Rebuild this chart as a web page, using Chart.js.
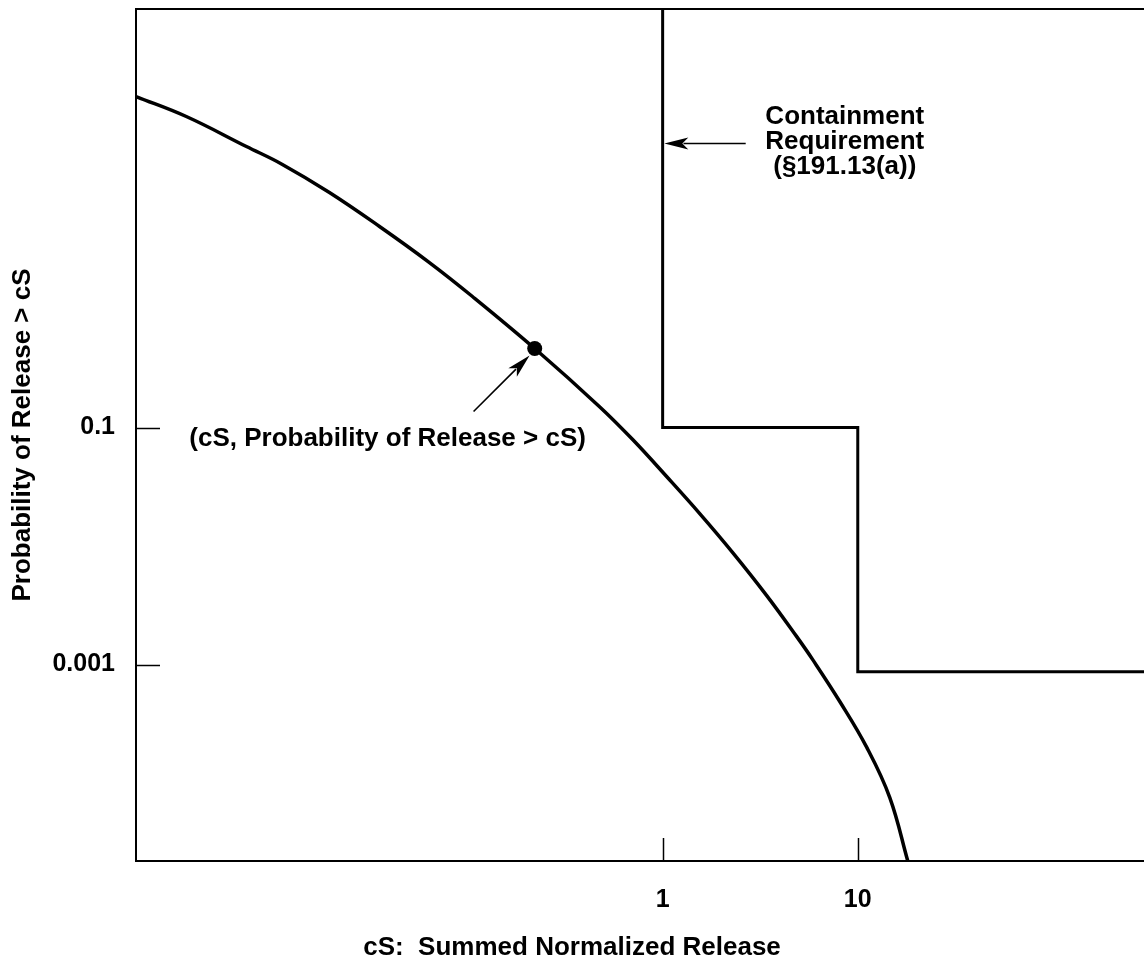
<!DOCTYPE html>
<html><head><meta charset="utf-8">
<script src="https://cdn.jsdelivr.net/npm/chart.js@4/dist/chart.umd.min.js"></script>
<style>html,body{margin:0;padding:0;background:#fff;overflow:hidden}#wrap{width:1144px;height:977px;position:relative}</style>
</head><body><div id="wrap"><canvas id="c" width="1144" height="977"></canvas></div>
<script>
// ---- data ----
const xTickValues = [1, 10];
const xTickLabels = ['1', '10'];
const yTickValues = [0.1, 0.001];
const yTickLabels = ['0.1', '0.001'];

// complementary cumulative distribution curve (cS, P(release > cS))
const curveX = [0.002, 0.00362, 0.00736, 0.01125, 0.0196, 0.0354, 0.0638, 0.106, 0.221, 0.475, 0.702, 1.048, 1.549, 2.286, 3.415, 4.866, 5.875, 8.086, 11.12, 14.59, 18.04];
const curveY = [62.1, 42.1, 23.5, 16.6, 9.62, 4.97, 2.466, 1.275, 0.464, 0.150, 0.0792, 0.0386, 0.0188, 0.00881, 0.00382, 0.00172, 0.0011, 0.000488, 0.0002, 0.0000755, 0.000022];

// containment requirement step line
const reqX = [1, 1, 10, 10, 300];
const reqY = [340, 0.1, 0.1, 0.00087, 0.00087];

// highlighted point
const markerX = [0.221];
const markerY = [0.464];

const xMin = 0.002, xMax = 293, yMin = 0.000022, yMax = 340;

const xTitle = 'cS:  Summed Normalized Release';
const yTitle = 'Probability of Release > cS';
const pointNote = '(cS, Probability of Release > cS)';
const reqNote = ['Containment', 'Requirement', '(\u00A7191.13(a))'];

// annotation anchors (data coordinates)
const pointNoteAt = {x: 0.00375, y: 0.0692};
const reqNoteAt = {x: 8.58, y: 36.7};
const arrows = [
  {from: {x: 0.1074, y: 0.1365}, to: {x: 0.208, y: 0.405}},
  {from: {x: 2.665, y: 24.9}, to: {x: 1.02, y: 24.9}}
];

const FONT = "'Liberation Sans', Arial, Helvetica, sans-serif";
const FS = 26;

const toPts = (xs, ys) => xs.map((x, i) => ({x, y: ys[i]}));

const decor = {
  id: 'decor',
  afterDraw(chart) {
    const {ctx, chartArea: a, scales: {x, y}} = chart;
    ctx.save();
    ctx.strokeStyle = '#000';
    ctx.fillStyle = '#000';
    // top frame line
    ctx.lineWidth = 2;
    ctx.beginPath();
    ctx.moveTo(a.left, a.top); ctx.lineTo(a.right, a.top); ctx.stroke();
    // inward tick marks
    ctx.lineWidth = 1.5;
    xTickValues.forEach(v => {
      const px = Math.round(x.getPixelForValue(v)) + 0.5;
      ctx.beginPath(); ctx.moveTo(px, a.bottom); ctx.lineTo(px, a.bottom - 23); ctx.stroke();
    });
    yTickValues.forEach(v => {
      const py = Math.round(y.getPixelForValue(v)) + 0.5;
      ctx.beginPath(); ctx.moveTo(a.left, py); ctx.lineTo(a.left + 24, py); ctx.stroke();
    });
    // arrows
    arrows.forEach(ar => {
      const x1 = x.getPixelForValue(ar.from.x), y1 = y.getPixelForValue(ar.from.y);
      const x2 = x.getPixelForValue(ar.to.x), y2 = y.getPixelForValue(ar.to.y);
      const ang = Math.atan2(y2 - y1, x2 - x1);
      const hl = 24, hw = 6;
      ctx.lineWidth = 1.6;
      ctx.beginPath();
      ctx.moveTo(x1, y1);
      ctx.lineTo(x2 - Math.cos(ang) * hl * 0.8, y2 - Math.sin(ang) * hl * 0.8);
      ctx.stroke();
      ctx.beginPath();
      ctx.moveTo(x2, y2);
      ctx.lineTo(x2 - Math.cos(ang) * hl + Math.sin(ang) * hw, y2 - Math.sin(ang) * hl - Math.cos(ang) * hw);
      ctx.lineTo(x2 - Math.cos(ang) * hl * 0.75, y2 - Math.sin(ang) * hl * 0.75);
      ctx.lineTo(x2 - Math.cos(ang) * hl - Math.sin(ang) * hw, y2 - Math.sin(ang) * hl + Math.cos(ang) * hw);
      ctx.closePath();
      ctx.fill();
    });
    // texts
    ctx.font = 'bold ' + FS + 'px ' + FONT;
    ctx.textBaseline = 'alphabetic';
    ctx.textAlign = 'left';
    ctx.fillText(pointNote, x.getPixelForValue(pointNoteAt.x), y.getPixelForValue(pointNoteAt.y));
    ctx.textAlign = 'center';
    const rx = x.getPixelForValue(reqNoteAt.x), ry = y.getPixelForValue(reqNoteAt.y);
    reqNote.forEach((t, i) => ctx.fillText(t, rx, ry + i * 25));
    ctx.restore();
  }
};

new Chart(document.getElementById('c'), {
  type: 'scatter',
  data: {
    datasets: [
      {label: 'curve', data: toPts(curveX, curveY), showLine: true, borderColor: '#000', borderWidth: 3.5,
       pointRadius: 0, tension: 0.4, fill: false},
      {label: 'requirement', data: toPts(reqX, reqY), showLine: true, borderColor: '#000', borderWidth: 3,
       pointRadius: 0, tension: 0, fill: false},
      {label: 'point', data: toPts(markerX, markerY), showLine: false, pointRadius: 7.5,
       pointBackgroundColor: '#000', pointBorderColor: '#000', pointBorderWidth: 0}
    ]
  },
  options: {
    responsive: false,
    animation: false,
    devicePixelRatio: 1,
    layout: {autoPadding: false, padding: {top: 9, left: 0, right: 0, bottom: 0}},
    plugins: {
      legend: {display: false},
      tooltip: {enabled: false},
      title: {display: true, text: xTitle, position: 'bottom', color: '#000',
              font: {family: FONT, size: FS, weight: 'bold'}, padding: {top: 0, bottom: 14}}
    },
    scales: {
      x: {
        type: 'logarithmic', position: 'bottom', min: xMin, max: xMax,
        grid: {display: false, drawTicks: false},
        border: {display: true, color: '#000', width: 2},
        afterBuildTicks: s => { s.ticks = xTickValues.map(v => ({value: v})); },
        afterFit: s => { s.height = 70.8; s.paddingLeft = 0; s.paddingRight = 0; s.paddingTop = 0; s.paddingBottom = 0; },
        ticks: {autoSkip: false, maxRotation: 0, color: '#000', padding: 24,
                font: {family: FONT, size: 25, weight: 'bold'},
                callback: (v, i) => xTickLabels[i]}
      },
      y: {
        type: 'logarithmic', position: 'left', min: yMin, max: yMax,
        grid: {display: false, drawTicks: false},
        border: {display: true, color: '#000', width: 2},
        afterBuildTicks: s => { s.ticks = yTickValues.map(v => ({value: v})); },
        afterFit: s => { s.width = 136; s.paddingLeft = 0; s.paddingRight = 0; s.paddingTop = 0; s.paddingBottom = 0; },
        ticks: {autoSkip: false, color: '#000', padding: 21,
                font: {family: FONT, size: 25, weight: 'bold'},
                callback: (v, i) => yTickLabels[i]},
        title: {display: true, text: yTitle, color: '#000',
                font: {family: FONT, size: FS, weight: 'bold'}, padding: {top: 7, bottom: 0}}
      }
    }
  },
  plugins: [decor]
});
</script>
</body></html>
